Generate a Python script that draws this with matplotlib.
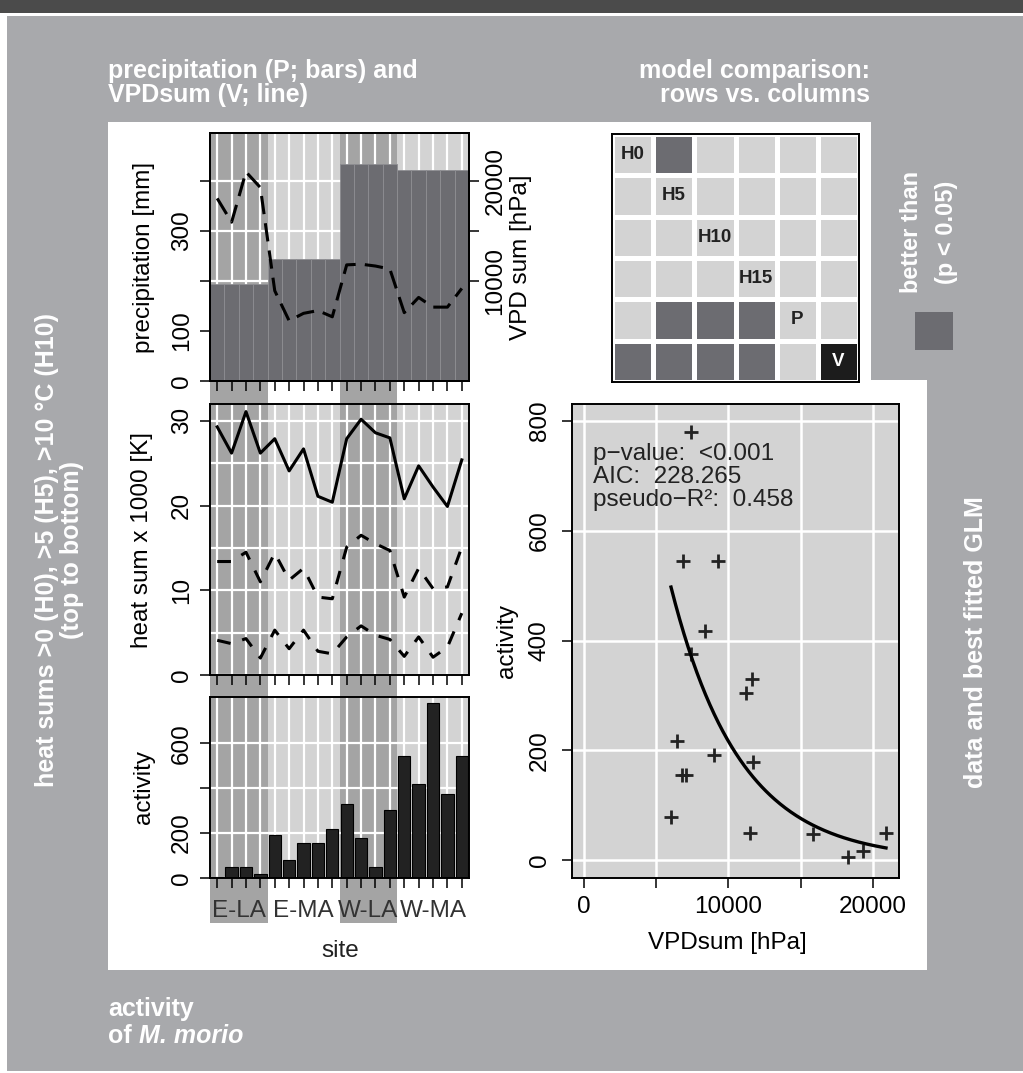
import numpy as np
import matplotlib
matplotlib.use('Agg')
import matplotlib.pyplot as plt
from matplotlib.patches import Rectangle, Polygon
from matplotlib.colors import ListedColormap

plt.rcParams['font.family'] = ['Liberation Sans', 'DejaVu Sans']

W, H = 1023, 1073

# ---- values ----
groups = ['E-LA', 'E-MA', 'W-LA', 'W-MA']
group_sizes = [4, 5, 4, 5]
shaded_groups = ['E-LA', 'W-LA']

precip = [194, 194, 194, 194, 245, 245, 245, 245, 245,
          435, 435, 435, 435, 423, 423, 423, 423, 423]
vpd = [18262, 15880, 20914, 19345, 9025, 6025, 6766, 7043, 6420,
       11613, 11683, 11496, 11198, 6834, 8358, 7388, 7388, 9258]
activity = [6, 47, 49, 16, 191, 79, 155, 155, 217,
            329, 178, 50, 304, 545, 417, 780, 375, 545]
h0 = [29.3, 26.2, 31.1, 26.2, 27.9, 24.1, 26.7, 21.1, 20.4,
      27.9, 30.2, 28.6, 28.0, 20.8, 24.7, 22.2, 19.9, 25.4]
h5 = [13.4, 13.4, 14.5, 11.0, 14.4, 11.2, 12.6, 9.2, 9.0,
      15.1, 16.5, 15.5, 14.7, 9.2, 12.6, 10.2, 10.4, 15.1]
h10 = [4.1, 3.7, 4.3, 2.0, 5.3, 3.1, 5.3, 2.8, 2.5,
       4.5, 5.8, 4.7, 4.2, 2.2, 4.5, 2.1, 3.3, 7.3]

models = ['H0', 'H5', 'H10', 'H15', 'P', 'V']
# 0 = no, 1 = row model better than column model, 2 = best model
better = [[0, 1, 0, 0, 0, 0],
          [0, 0, 0, 0, 0, 0],
          [0, 0, 0, 0, 0, 0],
          [0, 0, 0, 0, 0, 0],
          [0, 1, 1, 1, 0, 0],
          [1, 1, 1, 1, 0, 2]]

glm_coef = (7.471, -2.094e-4)   # log link: activity = exp(a + b * VPDsum)
glm_stats = ['p\u2212value:  <0.001', 'AIC:  228.265', 'pseudo\u2212R\u00b2:  0.458']

# ---- colours ----
BG = '#a8a9ac'
LIGHT = '#d3d3d3'
SHADE = '#a4a4a4'
DARK = '#6c6c71'
INK = '#222222'
FS = 17.5
WFS = 18

x = np.arange(len(activity)) + 0.5
n = len(activity)
starts = np.cumsum([0] + group_sizes[:-1])


def box(x0, y0, x1, y1):
    return [x0 / W, 1 - y1 / H, (x1 - x0) / W, (y1 - y0) / H]


fig = plt.figure(figsize=(W / 100, H / 100), dpi=100)
fig.patch.set_facecolor('white')

bg = fig.add_axes([0, 0, 1, 1])
bg.set_xlim(0, W)
bg.set_ylim(H, 0)
bg.axis('off')
bg.add_patch(Rectangle((0, 0), W, 13, color='#4b4b4b', lw=0))
bg.add_patch(Rectangle((7, 16), W - 7, 1055, color=BG, lw=0))
bg.add_patch(Polygon([(108, 122), (871, 122), (871, 380), (927, 380),
                      (927, 970), (108, 970)], closed=True, color='white', lw=0))

wt = dict(color='white', fontsize=WFS, fontweight='bold')
bg.text(108, 78, 'precipitation (P; bars) and', va='baseline', **wt)
bg.text(108, 102, 'VPDsum (V; line)', va='baseline', **wt)
bg.text(870, 78, 'model comparison:', ha='right', va='baseline', **wt)
bg.text(870, 102, 'rows vs. columns', ha='right', va='baseline', **wt)
bg.text(108, 1016, 'activity', va='baseline', **wt)
t_of = bg.text(108, 1043, 'of ', va='baseline', **wt)
bg.annotate('M. morio', xy=(1, 0), xycoords=t_of, va='bottom', ha='left',
            fontstyle='italic', **wt)
bg.text(47, 550, 'heat sums >0 (H0), >5 (H5), >10 \u00b0C (H10)', rotation=90,
        ha='center', va='center', **wt)
bg.text(72, 550, '(top to bottom)', rotation=90, ha='center', va='center', **wt)
bg.text(976, 642, 'data and best fitted GLM', rotation=90, ha='center', va='center', **wt)
wt_small = dict(wt, fontsize=17)
bg.text(912, 232, 'better than', rotation=90, ha='center', va='center', **wt_small)
bg.text(946, 232, '(p < 0.05)', rotation=90, ha='center', va='center', **wt_small)
bg.add_patch(Rectangle((915, 312), 38, 38, color=DARK, lw=0))

# ---- group shading behind the left column ----
shade = fig.add_axes(box(210, 133, 469, 923))
shade.set_xlim(0, n)
shade.set_ylim(0, 1)
shade.axis('off')
for g, s, k in zip(groups, starts, group_sizes):
    if g in shaded_groups:
        shade.axvspan(s, s + k, color=SHADE, lw=0)
    shade.text(s + k / 2, 0.0152, g, ha='center', va='center', fontsize=FS, color='#333333')
bg.text(340, 951, 'site', ha='center', va='center', fontsize=FS, color='#222222')

TL = 7.2


def panel(y0, y1):
    ax = fig.add_axes(box(210, y0, 469, y1))
    ax.set_facecolor(LIGHT)
    ax.set_axisbelow(True)
    ax.set_xlim(0, n)
    for g, s, k in zip(groups, starts, group_sizes):
        if g in shaded_groups:
            ax.axvspan(s, s + k, color=SHADE, lw=0, zorder=0.1)
    ax.set_xticks(x)
    ax.tick_params(axis='x', labelbottom=False, length=TL, width=1.1)
    ax.tick_params(axis='y', length=TL, width=1.1, labelsize=FS, labelrotation=90, pad=5)
    ax.grid(True, which='both', color='white', lw=1.6)
    for sp in ax.spines.values():
        sp.set_linewidth(1.4)
    return ax


def vlabels(ax):
    for lab in ax.get_yticklabels():
        lab.set_va('center')


# precipitation + VPD
ax1 = panel(133, 381)
ax1.bar(x, precip, width=1, color=DARK, edgecolor='#8e8e92', lw=0.6, zorder=1)
ax1.set_ylim(0, 496)
ax1.set_yticks([0, 100, 200, 300, 400], ['0', '100', '', '300', ''])
vlabels(ax1)
ax1b = ax1.twinx()
ax1b.plot(x, vpd, color='black', lw=2.2, dashes=(6, 3))
ax1b.set_ylim(0, 24800)
ax1b.set_yticks([10000, 15000, 20000], ['10000', '', '20000'])
ax1b.tick_params(axis='y', length=TL, width=1.1, labelsize=FS, labelrotation=90, pad=4)
for lab in ax1b.get_yticklabels():
    lab.set_va('center')
for sp in ax1b.spines.values():
    sp.set_linewidth(1.4)
bg.text(144, 257, 'precipitation [mm]', rotation=90, ha='center', va='center', fontsize=FS)
bg.text(521, 257, 'VPD sum [hPa]', rotation=90, ha='center', va='center', fontsize=FS)

# heat sums
ax2 = panel(404, 675)
ax2.plot(x, h0, color='black', lw=2.2)
ax2.plot(x, h5, color='black', lw=2.2, dashes=(4.5, 4))
ax2.plot(x, h10, color='black', lw=2.2, dashes=(4.5, 4))
ax2.set_ylim(0, 32)
ax2.set_yticks([0, 10, 20, 30])
ax2.set_yticks([5, 15, 25], minor=True)
ax2.tick_params(axis='y', which='minor', length=0)
vlabels(ax2)
bg.text(142, 540, 'heat sum x 1000 [K]', rotation=90, ha='center', va='center', fontsize=FS)

# activity bars
ax3 = panel(697, 878)
ax3.bar(x, activity, width=0.86, color=INK, edgecolor='black', lw=0.8, zorder=1)
ax3.set_ylim(0, 806)
ax3.set_yticks([0, 200, 400, 600], ['0', '200', '', '600'])
vlabels(ax3)
bg.text(144, 787, 'activity', rotation=90, ha='center', va='center', fontsize=FS)

# ---- model comparison matrix ----
ax5 = fig.add_axes(box(612, 134, 859, 382))
ax5.pcolormesh(np.array(better), cmap=ListedColormap([LIGHT, DARK, '#1c1c1c']),
               vmin=-0.5, vmax=2.5, edgecolors='white', linewidth=2.4)
ax5.set_xlim(0, 6)
ax5.set_ylim(6, 0)
ax5.set_xticks([])
ax5.set_yticks([])
for sp in ax5.spines.values():
    sp.set_linewidth(1.4)
for i, m in enumerate(models):
    ax5.text(i + 0.5, i + 0.5, m, ha='center', va='center', fontsize=13.5,
             fontweight='bold', color='white' if better[i][i] == 2 else INK)

# ---- scatter with fitted GLM ----
ax4 = fig.add_axes(box(572, 404, 899, 878))
ax4.set_facecolor(LIGHT)
ax4.set_axisbelow(True)
ax4.grid(True, color='white', lw=1.8)
ax4.plot(vpd, activity, '+', ms=9.5, mew=2, color=INK)
xs = np.linspace(min(vpd), max(vpd), 200)
ax4.plot(xs, np.exp(glm_coef[0] + glm_coef[1] * xs), color='black', lw=2.4)
ax4.set_xlim(-831, 21814)
ax4.set_ylim(-32.8, 831)
ax4.set_xticks([0, 5000, 10000, 15000, 20000], ['0', '', '10000', '', '20000'])
ax4.set_yticks([0, 200, 400, 600, 800])
ax4.tick_params(axis='x', length=TL, width=1.1, labelsize=FS, pad=6)
ax4.tick_params(axis='y', length=TL, width=1.1, labelsize=FS, labelrotation=90, pad=8)
vlabels(ax4)
for sp in ax4.spines.values():
    sp.set_linewidth(1.4)
for i, s in enumerate(glm_stats):
    ax4.text(0.063, 0.882 - i * 0.0485, s, transform=ax4.transAxes, fontsize=FS,
             va='baseline', color=INK)
bg.text(507, 641, 'activity', rotation=90, ha='center', va='center', fontsize=FS)
bg.text(727, 943, 'VPDsum [hPa]', ha='center', va='center', fontsize=FS)

fig.savefig('out.png', dpi=100, facecolor=fig.get_facecolor())
